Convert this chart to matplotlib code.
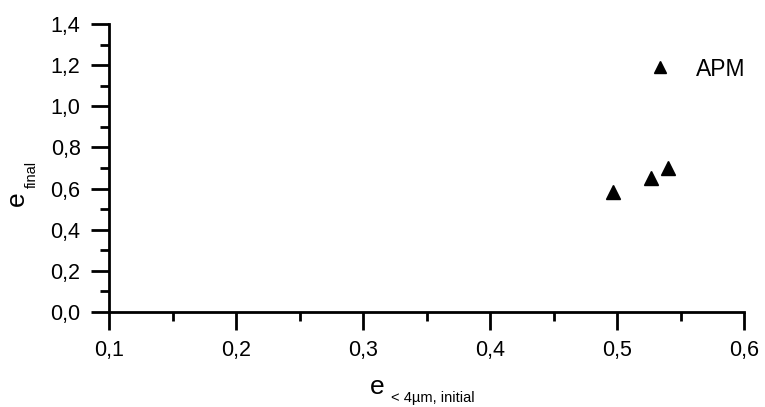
import matplotlib as mpl; mpl.use("Agg")
import matplotlib.pyplot as plt
from matplotlib.ticker import MultipleLocator, FuncFormatter

mpl.rcParams.update({"font.family": "sans-serif",
                     "font.sans-serif": ["Liberation Sans", "DejaVu Sans"],
                     "font.size": 15.5})

# data
e_initial = [0.497, 0.527, 0.540]
e_final = [0.584, 0.649, 0.699]
series_label = "APM"

W, H = 765, 407
fig = plt.figure(figsize=(W/100, H/100), dpi=100)
ax = fig.add_axes([109/W, 1-312/H, (744-109)/W, (312-24)/H])

ax.plot(e_initial, e_final, ls="none", marker="^", ms=10.5, color="black",
        label=series_label, clip_on=False)

ax.set_xlim(0.1, 0.6); ax.set_ylim(0.0, 1.4)
ax.xaxis.set_major_locator(MultipleLocator(0.1))
ax.xaxis.set_minor_locator(MultipleLocator(0.05))
ax.yaxis.set_major_locator(MultipleLocator(0.2))
ax.yaxis.set_minor_locator(MultipleLocator(0.1))
comma = FuncFormatter(lambda v, p: f"{v:.1f}".replace(".", ","))
ax.xaxis.set_major_formatter(comma); ax.yaxis.set_major_formatter(comma)

ax.spines[["top", "right"]].set_visible(False)
for s in ("left", "bottom"): ax.spines[s].set_linewidth(2)
ax.tick_params(which="major", direction="out", length=13, width=2, pad=7.5, labelsize=15.5)
ax.tick_params(which="minor", direction="out", length=6.5, width=2)

# axis labels with subscripts
fig.text(377/W, 1-387/H, "e", ha="center", va="center", fontsize=19)
fig.text(391/W, 1-398/H, "< 4µm, initial", ha="left", va="center", fontsize=10.5)
fig.text(16.5/W, 1-199/H, "e", ha="center", va="center", fontsize=19, rotation=90)
fig.text(31.5/W, 1-174/H, "final", ha="center", va="center", fontsize=10.5, rotation=90)

ax.legend(loc="center left", bbox_to_anchor=(651/W, 1-69/H), bbox_transform=fig.transFigure,
          frameon=False, borderpad=0, borderaxespad=0, handlelength=0.8,
          handletextpad=1.15, fontsize=16.5, markerscale=0.85)

fig.savefig("out.png", dpi=100)
